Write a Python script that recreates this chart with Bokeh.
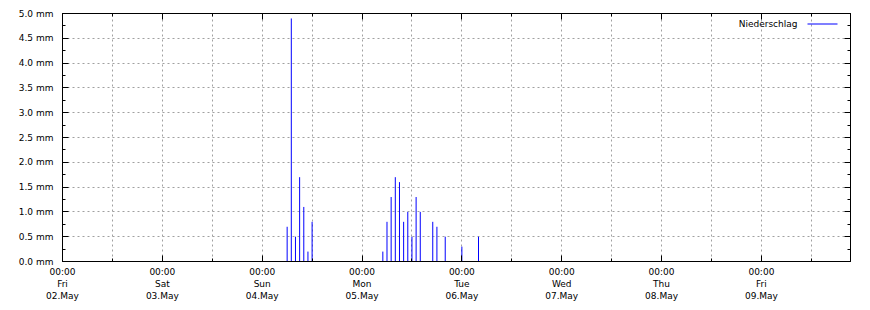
from datetime import datetime, timedelta
from bokeh.plotting import figure
from bokeh.models import (Range1d, FixedTicker, DatetimeAxis, LinearAxis,
                          PrintfTickFormatter, Label, BoxAnnotation, ColumnDataSource)
from bokeh.embed import file_html
from bokeh.resources import INLINE

# ---- data ----
times = [
    "2025-05-04 06:00", "2025-05-04 07:00", "2025-05-04 08:00", "2025-05-04 09:00",
    "2025-05-04 10:00", "2025-05-04 11:00", "2025-05-04 12:00",
    "2025-05-05 05:00", "2025-05-05 06:00", "2025-05-05 07:00", "2025-05-05 08:00",
    "2025-05-05 09:00", "2025-05-05 10:00", "2025-05-05 11:00", "2025-05-05 12:00",
    "2025-05-05 13:00", "2025-05-05 14:00", "2025-05-05 17:00", "2025-05-05 18:00",
    "2025-05-05 20:00",
    "2025-05-06 00:00", "2025-05-06 04:00",
]
rain_mm = [0.7, 4.9, 0.5, 1.7, 1.1, 0.2, 0.8,
           0.2, 0.8, 1.3, 1.7, 1.6, 0.8, 1.0, 0.5, 1.3, 1.0, 0.8, 0.7, 0.5,
           0.3, 0.5]
series_name = "Niederschlag"
x_start = "2025-05-02 00:00"
x_end = "2025-05-09 21:25"
y_ticks = [0.0, 0.5, 1.0, 1.5, 2.0, 2.5, 3.0, 3.5, 4.0, 4.5, 5.0]

EPOCH = datetime(1970, 1, 1)
def ms(dt):
    return (dt - EPOCH).total_seconds() * 1000.0

t_dt = [datetime.strptime(t, "%Y-%m-%d %H:%M") for t in times]
start = datetime.strptime(x_start, "%Y-%m-%d %H:%M")
end = datetime.strptime(x_end, "%Y-%m-%d %H:%M")

day_ticks = []
half_ticks = []
d = start
while d <= end:
    day_ticks.append(ms(d))
    half_ticks.append(ms(d))
    h = d + timedelta(hours=12)
    if h <= end:
        half_ticks.append(ms(h))
    d += timedelta(days=1)
minor_x = [t for t in half_ticks if t not in day_ticks]
labels = {}
d = start
while d <= end:
    labels[ms(d)] = d.strftime("%H:%M") + "\n" + d.strftime("%a") + "\n" + d.strftime("%d.%b")
    d += timedelta(days=1)

FONT = "DejaVu Sans"
FS = "9px"

p = figure(width=870, height=310, x_axis_type="datetime",
           x_range=Range1d(start, end), y_range=Range1d(0, 5),
           output_backend="svg", toolbar_location=None,
           min_border_left=62, min_border_right=20, min_border_top=13, min_border_bottom=49)
p.background_fill_color = "white"
p.border_fill_color = "white"
p.outline_line_color = "black"
p.outline_line_width = 1

src = ColumnDataSource(dict(t=t_dt, v=rain_mm, z=[0] * len(rain_mm)))
p.segment(x0="t", y0="z", x1="t", y1="v", source=src, line_color="#0000ff", line_width=1)

def style_axis(ax, labels_on=True):
    ax.axis_line_color = "black"
    ax.major_tick_line_color = "black"
    ax.minor_tick_line_color = "black"
    ax.major_tick_in = 6
    ax.major_tick_out = 0
    ax.minor_tick_in = 3
    ax.minor_tick_out = 0
    ax.major_label_text_font = FONT
    ax.major_label_text_color = "black"
    if labels_on:
        ax.major_label_text_font_size = FS
    else:
        ax.major_label_text_font_size = "0px"
        ax.major_label_standoff = 0

xt = FixedTicker(ticks=day_ticks, minor_ticks=minor_x)
yt = FixedTicker(ticks=y_ticks, minor_ticks=[v + 0.25 for v in y_ticks[:-1]])

xa = p.xaxis[0]
xa.ticker = xt
xa.major_label_overrides = labels
xa.major_label_standoff = 5
style_axis(xa)

ya = p.yaxis[0]
ya.ticker = yt
ya.formatter = PrintfTickFormatter(format="%.1f mm")
ya.major_label_standoff = 9
style_axis(ya)

top = DatetimeAxis(ticker=FixedTicker(ticks=day_ticks, minor_ticks=minor_x))
top.major_label_overrides = {k: "" for k in day_ticks}
style_axis(top, labels_on=False)
p.add_layout(top, "above")

right = LinearAxis(ticker=FixedTicker(ticks=y_ticks, minor_ticks=[v + 0.25 for v in y_ticks[:-1]]))
right.major_label_overrides = {v: "" for v in y_ticks}
style_axis(right, labels_on=False)
p.add_layout(right, "right")

p.xgrid.ticker = FixedTicker(ticks=half_ticks)
p.ygrid.ticker = FixedTicker(ticks=y_ticks)
for g in (p.xgrid[0], p.ygrid[0]):
    g.grid_line_color = "#a0a0a0"
    g.grid_line_dash = "2 3"
    g.grid_line_width = 1

# legend (text then line sample, as in the original)
p.add_layout(Label(x=735, y=238, x_units="screen", y_units="screen", text=series_name,
                   text_font=FONT, text_font_size=FS, text_align="right",
                   text_baseline="middle", text_color="black"))
p.add_layout(BoxAnnotation(left=745, right=775, bottom=237, top=238,
                           left_units="screen", right_units="screen",
                           bottom_units="screen", top_units="screen",
                           fill_color="#0000ff", fill_alpha=1.0, line_color=None))

open("out.html", "w").write(file_html(p, INLINE))
